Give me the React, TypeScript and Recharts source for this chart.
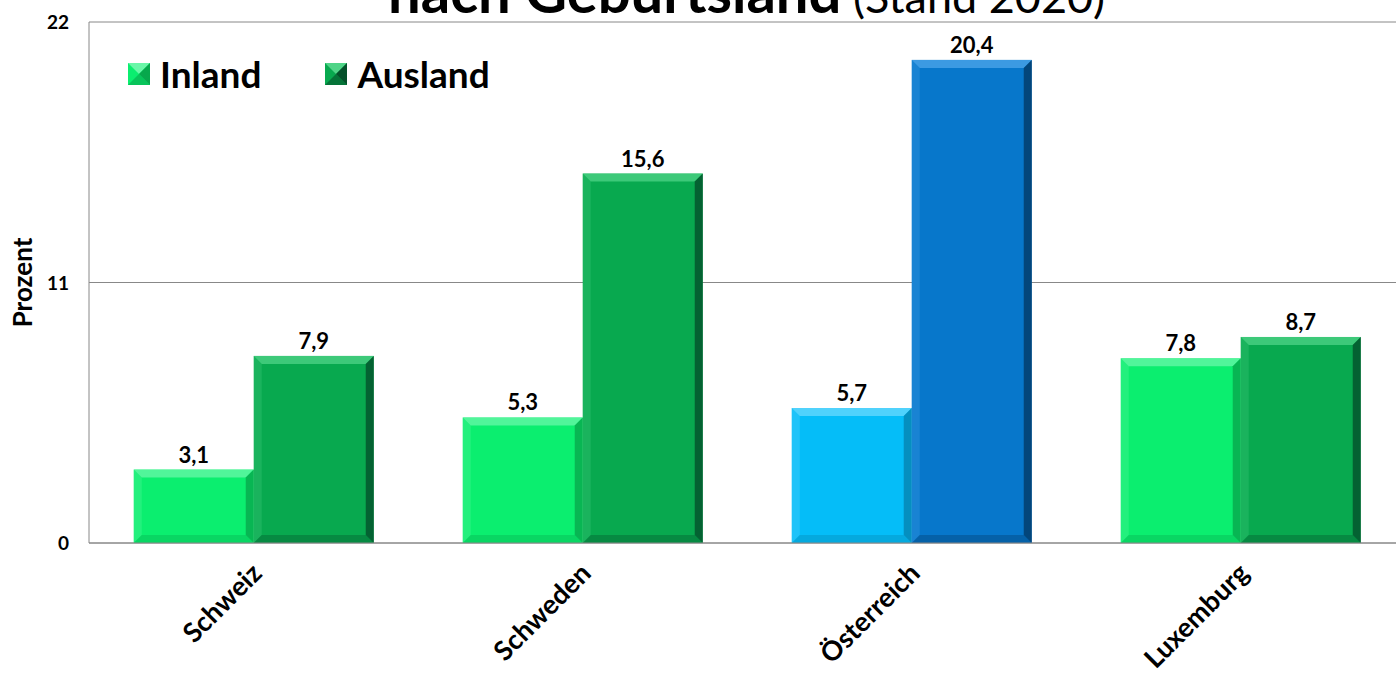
import React from "react";
import { BarChart, Bar, XAxis, YAxis, CartesianGrid, Cell, LabelList } from "recharts";

const countries = ["Schweiz", "Schweden", "Österreich", "Luxemburg"];
const inland = [3.1, 5.3, 5.7, 7.8];
const ausland = [7.9, 15.6, 20.4, 8.7];
const yTicks = [0, 11, 22];

const inlandColors = ["#0BEE6F", "#0BEE6F", "#05BDF8", "#0BEE6F"];
const auslandColors = ["#08A94F", "#08A94F", "#0777CB", "#08A94F"];

const shades: Record<string, { light: string; dark: string }> = {
  "#0BEE6F": { light: "#6AF7A8", dark: "#07A84C" },
  "#08A94F": { light: "#4FD487", dark: "#04502A" },
  "#05BDF8": { light: "#6AD9FD", dark: "#0583B0" },
  "#0777CB": { light: "#4FA6EA", dark: "#033A66" },
};

const data = countries.map((name, i) => ({ name, inland: inland[i], ausland: ausland[i] }));

const FONT = "Lato, 'Open Sans', sans-serif";

const fmt = (v: any) => Number(v).toFixed(1).replace(".", ",");

const BevelBar = (props: any) => {
  const { x, y, width: w, height: h, fill } = props;
  if (!h || h <= 0) return null;
  const s = shades[fill] || { light: fill, dark: fill };
  const b = Math.min(8, h / 2);
  return (
    <g>
      <rect x={x} y={y} width={w} height={h} fill={fill} />
      <polygon points={`${x},${y} ${x + w},${y} ${x + w - b},${y + b} ${x + b},${y + b}`} fill={s.light} opacity={0.75} />
      <polygon points={`${x + w},${y} ${x + w},${y + h} ${x + w - b},${y + h - b} ${x + w - b},${y + b}`} fill={s.dark} opacity={0.8} />
      <polygon points={`${x},${y} ${x + b},${y + b} ${x + b},${y + h - b} ${x},${y + h}`} fill={s.light} opacity={0.25} />
      <polygon points={`${x},${y + h} ${x + b},${y + h - b} ${x + w - b},${y + h - b} ${x + w},${y + h}`} fill={s.dark} opacity={0.35} />
    </g>
  );
};

const XTick = (props: any) => {
  const { x, y, payload } = props;
  const tx = x + 10;
  const ty = y + 24;
  return (
    <text
      x={tx}
      y={ty}
      transform={`rotate(-45, ${tx}, ${ty})`}
      textAnchor="end"
      fontFamily={FONT}
      fontWeight={700}
      fontSize={27}
      fill="#000"
    >
      {payload.value}
    </text>
  );
};

const YTick = (props: any) => {
  const { x, y, payload } = props;
  return (
    <text x={x - 12} y={y + 7} textAnchor="end" fontFamily={FONT} fontWeight={700} fontSize={19} fill="#000">
      {payload.value}
    </text>
  );
};

const YLabel = (props: any) => {
  const { viewBox } = props;
  const cy = viewBox.y + viewBox.height / 2;
  return (
    <text
      x={32}
      y={cy}
      transform={`rotate(-90, 32, ${cy})`}
      textAnchor="middle"
      fontFamily={FONT}
      fontWeight={700}
      fontSize={26}
      fill="#000"
    >
      Prozent
    </text>
  );
};

const LegendBox = ({ color }: { color: string }) => {
  const s = shades[color];
  return (
    <svg width={22} height={22} style={{ marginRight: 10 }}>
      <rect x={0} y={0} width={22} height={22} fill={color} />
      <polygon points="0,0 22,0 11,11" fill={s.light} />
      <polygon points="22,0 22,22 11,11" fill={s.dark} />
      <polygon points="0,22 22,22 11,11" fill={s.dark} opacity={0.6} />
    </svg>
  );
};

export default function App() {
  return (
    <div style={{ position: "absolute", left: 0, top: 0, width: 1396, height: 695, overflow: "hidden", background: "#fff" }}>
      <BarChart
        width={1420}
        height={695}
        data={data}
        margin={{ top: 22, right: 15, left: 0, bottom: 0 }}
        barCategoryGap="13.6%"
        barGap={0}
      >
        <CartesianGrid vertical={false} stroke="#888" />
        <XAxis
          dataKey="name"
          interval={0}
          tickLine={false}
          axisLine={{ stroke: "#888" }}
          tick={<XTick />}
          height={152}
        />
        <YAxis
          domain={[0, 22]}
          ticks={yTicks}
          width={89}
          tickLine={false}
          axisLine={{ stroke: "#888" }}
          tick={<YTick />}
          label={<YLabel />}
        />
        <Bar dataKey="inland" isAnimationActive={false} shape={<BevelBar />}>
          {data.map((_, i) => (
            <Cell key={i} fill={inlandColors[i]} />
          ))}
          <LabelList
            dataKey="inland"
            position="top"
            offset={7}
            formatter={fmt}
            style={{ fontFamily: FONT, fontWeight: 700, fontSize: 22, fill: "#000" }}
          />
        </Bar>
        <Bar dataKey="ausland" isAnimationActive={false} shape={<BevelBar />}>
          {data.map((_, i) => (
            <Cell key={i} fill={auslandColors[i]} />
          ))}
          <LabelList
            dataKey="ausland"
            position="top"
            offset={7}
            formatter={fmt}
            style={{ fontFamily: FONT, fontWeight: 700, fontSize: 22, fill: "#000" }}
          />
        </Bar>
      </BarChart>
      <div
        style={{
          position: "absolute",
          left: 388,
          top: -38,
          fontFamily: FONT,
          whiteSpace: "nowrap",
          lineHeight: 1,
        }}
      >
        <span style={{ fontSize: 58, fontWeight: 700 }}>nach Geburtsland</span>
        <span style={{ fontSize: 45, fontWeight: 400 }}> (Stand 2020)</span>
      </div>
      <div
        style={{
          position: "absolute",
          left: 128,
          top: 54,
          display: "flex",
          alignItems: "center",
          fontFamily: FONT,
          fontWeight: 700,
          fontSize: 37,
          lineHeight: "40px",
        }}
      >
        <LegendBox color={inlandColors[0]} />
        <span style={{ marginRight: 64 }}>Inland</span>
        <LegendBox color={auslandColors[0]} />
        <span>Ausland</span>
      </div>
    </div>
  );
}
